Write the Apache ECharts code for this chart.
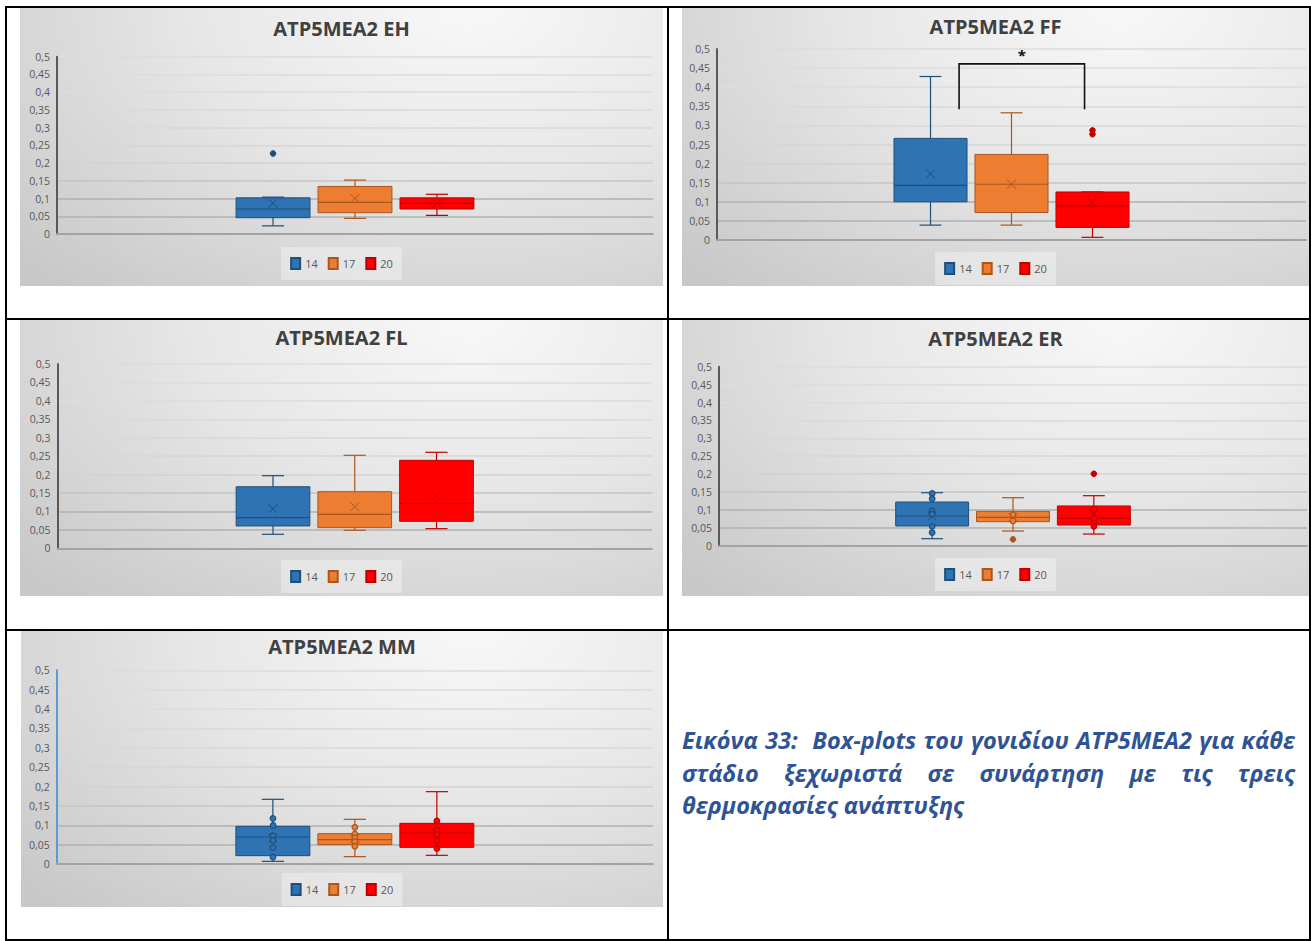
<!DOCTYPE html>
<html>
<head>
<meta charset="utf-8">
<script src="https://cdn.jsdelivr.net/npm/echarts@6/dist/echarts.min.js"></script>
<style>
  html, body { margin: 0; padding: 0; background: #fff; width: 1311px; height: 941px; overflow: hidden; }
  body { position: relative; }
  .rule { position: absolute; background: #000; }
  .chart {
    position: absolute;
    background: radial-gradient(ellipse 95% 135% at 70% 0%, #f8f8f8 0%, #e7e7e7 45%, #d3d3d3 80%, #c8c8c8 100%);
  }
  #caption {
    position: absolute; left: 682px; top: 724px; width: 613px;
    font-family: "Open Sans", "Noto Sans", sans-serif; font-weight: bold; font-style: italic;
    font-size: 23.5px; line-height: 32.5px; color: #2f5496;
  }
  #caption div { white-space: nowrap; }
  #caption .j { text-align: justify; text-align-last: justify; }
</style>
</head>
<body>
<!-- table frame -->
<div class="rule" style="left:5px;top:6px;width:1306px;height:2px"></div>
<div class="rule" style="left:5px;top:318px;width:1306px;height:2px"></div>
<div class="rule" style="left:5px;top:629px;width:1306px;height:2px"></div>
<div class="rule" style="left:5px;top:939px;width:1306px;height:2px"></div>
<div class="rule" style="left:5px;top:6px;width:2px;height:935px"></div>
<div class="rule" style="left:667px;top:6px;width:2px;height:935px"></div>
<div class="rule" style="left:1309px;top:6px;width:2px;height:935px"></div>

<div id="cEH" class="chart" style="left:20px;top:8px;width:643px;height:278px"></div>
<div id="cFF" class="chart" style="left:682px;top:8px;width:627px;height:278px"></div>
<div id="cFL" class="chart" style="left:20px;top:320px;width:643px;height:276px"></div>
<div id="cER" class="chart" style="left:682px;top:320px;width:627px;height:276px"></div>
<div id="cMM" class="chart" style="left:21px;top:631px;width:642px;height:276px"></div>

<div id="caption">
  <div class="j">Εικόνα 33:&nbsp; Box-plots του γονιδίου ATP5MEA2 για κάθε</div>
  <div class="j">στάδιο ξεχωριστά σε συνάρτηση με τις τρεις</div>
  <div>θερμοκρασίες ανάπτυξης</div>
</div>

<script>
// Development temperatures (°C), one box per temperature
const temps = ['14', '17', '20'];
const fills = ['#2e74b5', '#ed7d31', '#ff0000'];
const lines = ['#1f4e79', '#a9561f', '#c00000'];

// Box statistics per temperature: [min, Q1, median, Q3, max, mean]
const statsEH = [
  [0.023, 0.046, 0.0705, 0.102, 0.104, 0.0865],
  [0.044, 0.060, 0.089, 0.134, 0.152, 0.100],
  [0.0525, 0.0705, 0.0865, 0.102, 0.112, 0.0865]
];
const outliersEH = [[0.227], [], []];
const pointsEH = [[], [], []];

const statsFF = [
  [0.039, 0.100, 0.143, 0.266, 0.428, 0.173],
  [0.039, 0.072, 0.146, 0.224, 0.333, 0.146],
  [0.007, 0.033, 0.089, 0.1257, 0.1257, 0.0986]
];
const outliersFF = [[], [], [0.287, 0.277]];
const pointsFF = [[], [], []];
// significance bracket 14 vs 20: [leg bottom, bar level, star level]
const bracketFF = [0.342, 0.461, 0.484];

const statsFL = [
  [0.038, 0.0606, 0.0832, 0.167, 0.197, 0.1076],
  [0.0488, 0.056, 0.0922, 0.1537, 0.2523, 0.113],
  [0.0533, 0.0732, 0.122, 0.2387, 0.2604, 0.1438]
];
const outliersFL = [[], [], []];
const pointsFL = [[], [], []];

const statsER = [
  [0.0196, 0.055, 0.0829, 0.122, 0.148, 0.082],
  [0.041, 0.067, 0.079, 0.096, 0.134, 0.079],
  [0.0326, 0.0577, 0.0773, 0.111, 0.1397, 0.088]
];
const outliersER = [[], [0.0177], [0.201]];
const pointsER = [
  [0.146, 0.131, 0.097, 0.088, 0.054, 0.037],
  [0.0866, 0.069],
  [0.1015, 0.076, 0.063, 0.054]
];

const statsMM = [
  [0.0069, 0.0215, 0.0697, 0.0972, 0.167, 0.066],
  [0.019, 0.050, 0.0628, 0.0783, 0.1153, 0.066],
  [0.0224, 0.043, 0.080, 0.105, 0.1867, 0.079]
];
const outliersMM = [[], [], []];
const pointsMM = [
  [0.1196, 0.1024, 0.075, 0.063, 0.044, 0.0198],
  [0.0947, 0.0775, 0.068, 0.0577, 0.0456],
  [0.111, 0.0878, 0.0766, 0.060, 0.040]
];

// Layout of the three boxes inside the single category band
const SPACING = 0.1375;   // distance between box centres, fraction of band
const BOX = 0.124;        // box width, fraction of band
const CAP = 0.3;          // whisker cap width relative to box width

function fmtTick(v) {
  return String(Math.round(v * 100) / 100).replace('.', ',');
}

function boxRenderer(k, outs, pts) {
  return function (params, api) {
    const band = api.size([1, 0])[0];
    const cx = api.coord([0, 0])[0] + (k - 1) * SPACING * band;
    const hw = BOX * band / 2;
    const cw = hw * CAP;
    const y = (v) => api.coord([0, v])[1];
    const mn = y(api.value(1)), q1 = y(api.value(2)), md = y(api.value(3));
    const q3 = y(api.value(4)), mx = y(api.value(5)), mean = y(api.value(6));
    const ls = { stroke: lines[k], lineWidth: 1.2, fill: null };
    const xs = 4.5;
    const children = [
      { type: 'line', shape: { x1: cx, y1: q3, x2: cx, y2: mx }, style: ls },
      { type: 'line', shape: { x1: cx - cw, y1: mx, x2: cx + cw, y2: mx }, style: ls },
      { type: 'line', shape: { x1: cx, y1: q1, x2: cx, y2: mn }, style: ls },
      { type: 'line', shape: { x1: cx - cw, y1: mn, x2: cx + cw, y2: mn }, style: ls },
      { type: 'rect', shape: { x: cx - hw, y: q3, width: 2 * hw, height: q1 - q3 },
        style: { fill: fills[k], stroke: lines[k], lineWidth: 1 } },
      { type: 'line', shape: { x1: cx - hw, y1: md, x2: cx + hw, y2: md }, style: ls },
      { type: 'line', shape: { x1: cx - xs, y1: mean - xs, x2: cx + xs, y2: mean + xs }, style: { stroke: lines[k], lineWidth: 1 } },
      { type: 'line', shape: { x1: cx - xs, y1: mean + xs, x2: cx + xs, y2: mean - xs }, style: { stroke: lines[k], lineWidth: 1 } }
    ];
    pts.forEach(function (v) {
      children.push({ type: 'circle', shape: { cx: cx, cy: y(v), r: 2.8 },
        style: { fill: fills[k], stroke: lines[k], lineWidth: 1.2 } });
    });
    outs.forEach(function (v) {
      children.push({ type: 'circle', shape: { cx: cx, cy: y(v), r: 2.8 },
        style: { fill: lines[k], stroke: lines[k], lineWidth: 1 } });
    });
    return { type: 'group', children: children };
  };
}

function bracketRenderer(params, api) {
  const band = api.size([1, 0])[0];
  const c = api.coord([0, 0])[0];
  const xl = c - 0.089 * band, xr = c + 0.124 * band;
  const yLeg = api.coord([0, api.value(1)])[1];
  const yBar = api.coord([0, api.value(2)])[1];
  const yStar = api.coord([0, api.value(3)])[1];
  return {
    type: 'group',
    children: [
      { type: 'polyline', shape: { points: [[xl, yLeg], [xl, yBar], [xr, yBar], [xr, yLeg]] },
        style: { stroke: '#111', lineWidth: 1.6, fill: null } },
      { type: 'text', x: (xl + xr) / 2, y: yStar,
        style: { text: '*', fill: '#111', font: 'bold 15px "Open Sans", sans-serif', align: 'center', verticalAlign: 'middle' } }
    ]
  };
}

function buildChart(id, cfg) {
  const chart = echarts.init(document.getElementById(id), null, { renderer: 'svg' });
  const series = temps.map(function (t, k) {
    return {
      type: 'custom',
      name: t,
      renderItem: boxRenderer(k, cfg.outliers[k], cfg.points[k]),
      itemStyle: { color: fills[k], borderColor: lines[k], borderWidth: 1 },
      encode: { x: 0, y: [1, 2, 3, 4, 5, 6] },
      data: [[0].concat(cfg.stats[k])],
      clip: false,
      silent: true
    };
  });
  if (cfg.bracket) {
    series.push({
      type: 'custom',
      name: 'sig',
      renderItem: bracketRenderer,
      encode: { x: 0, y: [1, 2, 3] },
      data: [[0].concat(cfg.bracket)],
      clip: false,
      silent: true
    });
  }
  chart.setOption({
    animation: false,
    backgroundColor: 'transparent',
    title: {
      text: cfg.title, left: 'center', top: cfg.titleTop, padding: 0,
      textStyle: { fontFamily: '"Open Sans", sans-serif', fontWeight: 'bold', fontSize: 20, color: '#404040' }
    },
    legend: {
      data: temps, left: 'center', top: cfg.legendTop, icon: 'rect',
      itemWidth: 9, itemHeight: 11, itemGap: 10, padding: [10, 9],
      backgroundColor: 'rgba(255,255,255,0.35)',
      textStyle: { fontFamily: '"Open Sans", sans-serif', fontSize: 11, color: '#595959', padding: [0, 0, 0, 0] },
      selectedMode: false
    },
    grid: cfg.grid,
    xAxis: {
      type: 'category', data: [''],
      axisLine: { show: true, lineStyle: { color: '#a3a3a3', width: 1.8 } },
      axisTick: { show: false }, axisLabel: { show: false }, splitLine: { show: false }
    },
    yAxis: {
      type: 'value', min: 0, max: 0.5, interval: 0.05,
      axisLine: { show: true, lineStyle: { color: cfg.axisColor, width: 2 } },
      axisTick: { show: false },
      axisLabel: { formatter: fmtTick, fontFamily: '"Open Sans", sans-serif', fontSize: 10.5, color: '#595959', margin: 7 },
      splitLine: { show: true, lineStyle: { color: ['#b4b4b4', '#b0b0b0', '#b0b0b0', '#c4c4c4', '#d2d2d2', '#d6d6d6', '#d8d8d8', '#dadada', '#dcdcdc', '#dcdcdc', '#dcdcdc'], width: 1.6 } }
    },
    series: series
  });
}

buildChart('cEH', { title: 'ATP5MEA2 EH', stats: statsEH, outliers: outliersEH, points: pointsEH,
  grid: { left: 37, right: 10, top: 48.7, bottom: 52 }, titleTop: 10, legendTop: 239, axisColor: '#595959' });
buildChart('cFF', { title: 'ATP5MEA2 FF', stats: statsFF, outliers: outliersFF, points: pointsFF, bracket: bracketFF,
  grid: { left: 35, right: 3, top: 41, bottom: 46 }, titleTop: 8, legendTop: 244, axisColor: '#595959' });
buildChart('cFL', { title: 'ATP5MEA2 FL', stats: statsFL, outliers: outliersFL, points: pointsFL,
  grid: { left: 37.5, right: 11, top: 44, bottom: 47.7 }, titleTop: 7, legendTop: 240, axisColor: '#595959' });
buildChart('cER', { title: 'ATP5MEA2 ER', stats: statsER, outliers: outliersER, points: pointsER,
  grid: { left: 37, right: 2, top: 46.7, bottom: 50.3 }, titleTop: 8, legendTop: 238, axisColor: '#595959' });
buildChart('cMM', { title: 'ATP5MEA2 MM', stats: statsMM, outliers: outliersMM, points: pointsMM,
  grid: { left: 35.7, right: 10, top: 39.3, bottom: 43 }, titleTop: 5, legendTop: 242, axisColor: '#5b9bd5' });
</script>
</body>
</html>
